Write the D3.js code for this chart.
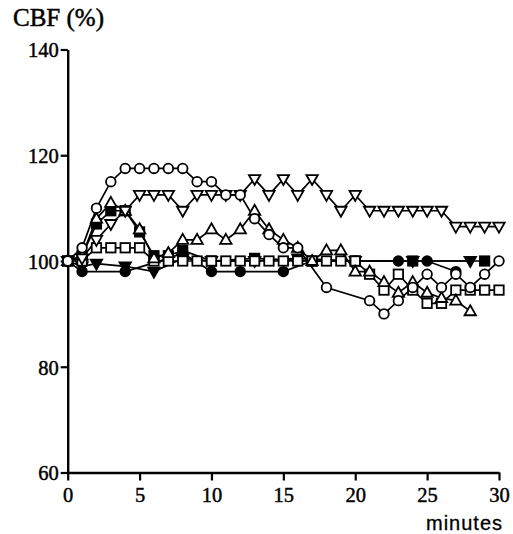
<!DOCTYPE html>
<html>
<head>
<meta charset="utf-8">
<script src="https://cdn.jsdelivr.net/npm/d3@7"></script>
<style>
  html, body { margin: 0; padding: 0; background: #fff; }
  svg { display: block; }
</style>
</head>
<body>
<svg id="chart" width="513" height="534"></svg>
<script>
// Cerebral blood flow (% of baseline) over time, one series per subject.
const xTicks = [0, 5, 10, 15, 20, 25, 30];
const yTicks = [60, 80, 100, 120, 140];

// open circles
const openCircleT = [0, 1, 2, 3, 4, 5, 6, 7, 8, 9, 10, 11, 12, 13, 14, 15, 16, 18, 21, 22, 23, 24, 25, 26, 27, 28, 29, 30];
const openCircleV = [100, 102.5, 110, 115, 117.5, 117.5, 117.5, 117.5, 117.5, 115, 115, 112.5, 112.5, 108, 105, 102.5, 102.5, 95, 92.5, 90, 92.5, 95, 97.5, 95, 97.5, 95, 97.5, 100];

// open inverted triangles
const openDownT = [0, 1, 2, 3, 4, 5, 6, 7, 8, 9, 10, 11, 12, 13, 14, 15, 16, 17, 18, 19, 20, 21, 22, 23, 24, 25, 26, 27, 28, 29, 30];
const openDownV = [100, 100.5, 104, 107, 109.5, 112.5, 112.5, 112.5, 109.5, 112.5, 112.5, 112.5, 112.5, 115.5, 112.5, 115.5, 112.5, 115.5, 112.5, 109.5, 112.5, 109.5, 109.5, 109.5, 109.5, 109.5, 109.5, 106.5, 106.5, 106.5, 106.5];

// open triangles
const openUpT = [0, 1, 2, 3, 4, 5, 6, 7, 8, 9, 10, 11, 12, 13, 14, 15, 16, 17, 18, 19, 20, 21, 22, 23, 24, 25, 26, 27, 28];
const openUpV = [100, 101, 108, 111, 109.5, 106, 100.5, 101.5, 104, 104, 106, 104, 106, 109.5, 106, 104, 102.5, 100, 102, 102, 98, 98, 96, 94, 96, 94, 93, 92.5, 90.5];

// open squares
const openSquareT = [0, 1, 2, 3, 4, 5, 6, 7, 8, 9, 10, 11, 12, 13, 14, 15, 16, 17, 18, 19, 20, 21, 22, 23, 24, 25, 26, 27, 28, 29, 30];
const openSquareV = [100, 100, 102.5, 102.5, 102.5, 102.5, 100, 100, 100, 100, 100, 100, 100, 100, 100, 100, 100, 100, 100, 100, 100, 97.5, 94.5, 97.5, 94.5, 92, 92, 94.5, 94.5, 94.5, 94.5];

// filled circles
const fillCircleT = [0, 1, 4, 7, 8, 10, 12, 15, 17, 20, 23, 25, 27];
const fillCircleV = [100, 98, 98, 100.5, 101.5, 98, 98, 98, 100, 100, 100, 100, 98];

// filled inverted triangles
const fillDownT = [0, 1, 2, 4, 6, 8, 10, 13, 16, 20, 24, 28];
const fillDownV = [100, 99, 99.5, 99, 98, 100.5, 100, 100, 100.5, 100, 100, 100];

// filled squares
const fillSquareT = [0, 1, 2, 3, 4, 5, 6, 7, 8, 10, 13, 17, 20, 24, 29];
const fillSquareV = [100, 101, 107, 109.5, 109.5, 105.5, 101, 101, 102, 100, 100.5, 100, 100, 100, 100];

const series = [
  { t: fillSquareT, v: fillSquareV, shape: "square", filled: true },
  { t: fillDownT, v: fillDownV, shape: "down", filled: true },
  { t: fillCircleT, v: fillCircleV, shape: "circle", filled: true },
  { t: openSquareT, v: openSquareV, shape: "square", filled: false },
  { t: openUpT, v: openUpV, shape: "up", filled: false },
  { t: openDownT, v: openDownV, shape: "down", filled: false },
  { t: openCircleT, v: openCircleV, shape: "circle", filled: false }
];

const svg = d3.select("#chart");
const x = d3.scaleLinear().domain([0, 30]).range([67.7, 499]);
const y = d3.scaleLinear().domain([60, 140]).range([472.5, 49.5]);

const serif = "Liberation Serif, Times New Roman, serif";

// axes
const yAxis = d3.axisLeft(y).tickValues(yTicks).tickSize(7).tickSizeOuter(0).tickPadding(2);
const xAxis = d3.axisBottom(x).tickValues(xTicks).tickSize(8).tickSizeOuter(0).tickPadding(6);

const gy = svg.append("g").attr("transform", `translate(${x(0)},0)`).call(yAxis);
const gx = svg.append("g").attr("transform", `translate(0,${y(60)})`).call(xAxis);

[gy, gx].forEach(g => {
  g.select(".domain").attr("stroke", "#000").attr("stroke-width", 2.4);
  g.selectAll(".tick line").attr("stroke", "#000").attr("stroke-width", 2.2);
  g.selectAll(".tick text").attr("fill", "#000").attr("font-size", 20.5)
    .attr("font-family", serif)
    .attr("stroke", "#000").attr("stroke-width", 0.45);
});
gy.selectAll(".tick text").attr("dy", "0.36em");
gx.selectAll(".tick text").attr("dy", "0.75em");

// titles
svg.append("text").attr("x", 13).attr("y", 26)
  .attr("font-family", serif)
  .attr("font-size", 25).attr("fill", "#000")
  .attr("stroke", "#000").attr("stroke-width", 0.5)
  .text("CBF (%)");
svg.append("text").attr("x", 503).attr("y", 530).attr("text-anchor", "end")
  .attr("font-family", "Liberation Sans, Arial, sans-serif")
  .attr("font-size", 20).attr("letter-spacing", 1).attr("fill", "#000")
  .attr("stroke", "#000").attr("stroke-width", 0.3)
  .text("minutes");

// lines
const line = d3.line().x(d => x(d[0])).y(d => y(d[1]));
const plot = svg.append("g");
series.forEach(s => {
  const pts = s.t.map((t, i) => [t, s.v[i]]);
  plot.append("path").datum(pts).attr("d", line)
    .attr("fill", "none").attr("stroke", "#000").attr("stroke-width", 1.7);
});

// markers
function marker(g, shape, cx, cy, filled) {
  const fill = filled ? "#000" : "#fff";
  let el;
  if (shape === "circle") {
    el = g.append("circle").attr("cx", cx).attr("cy", cy).attr("r", 4.8);
  } else if (shape === "square") {
    el = g.append("rect").attr("x", cx - 4.7).attr("y", cy - 4.7).attr("width", 9.4).attr("height", 9.4);
  } else if (shape === "up") {
    el = g.append("path").attr("d", `M${cx},${cy - 6}L${cx + 5.7},${cy + 4}L${cx - 5.7},${cy + 4}Z`);
  } else {
    el = g.append("path").attr("d", `M${cx},${cy + 6}L${cx + 5.7},${cy - 4}L${cx - 5.7},${cy - 4}Z`);
  }
  el.attr("fill", fill).attr("stroke", "#000").attr("stroke-width", 1.8);
}
series.forEach(s => {
  const g = plot.append("g");
  s.t.forEach((t, i) => marker(g, s.shape, x(t), y(s.v[i]), s.filled));
});
</script>
</body>
</html>
